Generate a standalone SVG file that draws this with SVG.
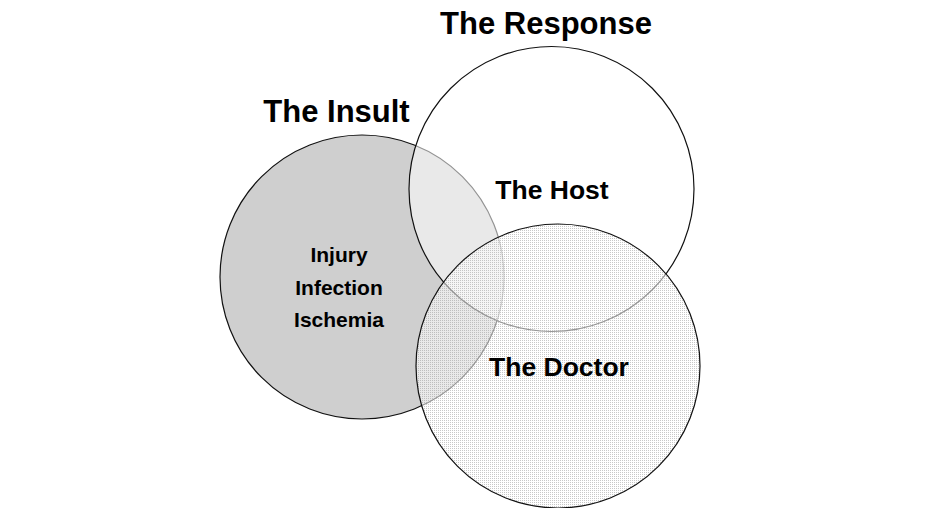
<svg xmlns="http://www.w3.org/2000/svg" width="926" height="508" viewBox="0 0 926 508">
<style>
.t{font-family:"Liberation Sans",Arial,sans-serif;font-weight:bold;fill:#000;text-anchor:middle}
.c{stroke:#111;stroke-width:1.2}
</style>
<defs>
<pattern id="dots" width="2" height="2" patternUnits="userSpaceOnUse">
<rect width="2" height="2" fill="#fff" fill-opacity="0.55"/>
<rect width="1" height="1" fill="#9a9a9a" fill-opacity="0.55"/>
</pattern>
</defs>
<rect width="926" height="508" fill="#fff"/>
<g id="insult">
<circle class="c" cx="362" cy="277" r="142" fill="#cfcfcf"/>
<text class="t" x="339" y="262" font-size="21">Injury</text>
<text class="t" x="339" y="294.5" font-size="21">Infection</text>
<text class="t" x="339" y="327" font-size="21">Ischemia</text>
</g>
<g id="host">
<circle class="c" cx="551.5" cy="189" r="142.5" fill="#fff" fill-opacity="0.55"/>
<text class="t" x="552" y="199" font-size="26.5">The Host</text>
</g>
<g id="doctor">
<circle class="c" cx="558" cy="366" r="142" fill="url(#dots)"/>
<text class="t" x="559" y="376" font-size="26.5">The Doctor</text>
</g>
<g id="titles">
<text class="t" x="546" y="34" font-size="31">The Response</text>
<text class="t" x="336.5" y="122" font-size="31">The Insult</text>
</g>
<g id="connectors"/>
</svg>
